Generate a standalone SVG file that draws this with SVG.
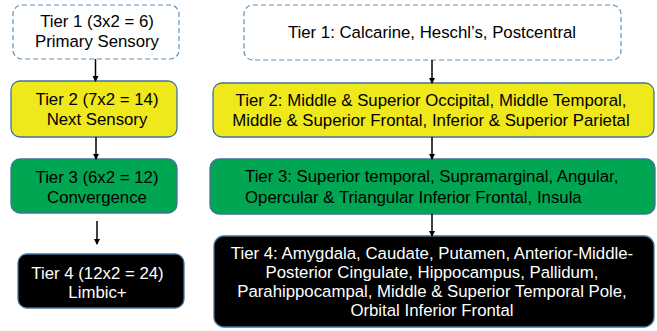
<svg xmlns="http://www.w3.org/2000/svg" width="657" height="331" viewBox="0 0 657 331">
<defs>
<marker id="ah" markerWidth="6" markerHeight="7" refX="5" refY="3" orient="auto" markerUnits="userSpaceOnUse">
<path d="M0,0 L6,3 L0,6 Z" fill="#000"/>
</marker>
<style>
.box{stroke:#41719c;stroke-width:1.3}
.dash{fill:#fff;stroke:#5b8fbd;stroke-width:1.2;stroke-dasharray:5,3}
.y{fill:#efe81b}
.g{fill:#00a651}
.k{fill:#000}
text{font-family:"Liberation Sans",Arial,sans-serif;font-size:16.8px;fill:#000}
.c{text-anchor:middle}
.w{fill:#fff}
.conn line{stroke:#000;stroke-width:1.5;marker-end:url(#ah)}
</style>
</defs>
<rect width="657" height="331" fill="#fff"/>
<g id="L1"><rect class="dash" x="13" y="5" width="166" height="54" rx="9"/>
<text class="c" x="97" y="27">Tier 1 (3x2 = 6)</text><text class="c" x="97" y="47">Primary Sensory</text></g>
<g id="L2"><rect class="box y" x="11" y="81" width="166" height="56" rx="9"/>
<text class="c" x="97" y="105">Tier 2 (7x2 = 14)</text><text class="c" x="97" y="125">Next Sensory</text></g>
<g id="L3"><rect class="box g" x="11" y="159" width="166" height="54" rx="9"/>
<text class="c" x="97" y="183">Tier 3 (6x2 = 12)</text><text class="c" x="97" y="203">Convergence</text></g>
<g id="L4"><rect class="box k" x="18" y="254" width="166" height="54" rx="9"/>
<text class="c w" x="97.5" y="279">Tier 4 (12x2 = 24)</text><text class="c w" x="97.5" y="298">Limbic+</text></g>
<g id="R1"><rect class="dash" x="244" y="5" width="377" height="55" rx="9"/>
<text class="c" x="432" y="38">Tier 1: Calcarine, Heschl’s, Postcentral</text></g>
<g id="R2"><rect class="box y" x="213" y="83" width="441" height="54" rx="9"/>
<text class="c" x="431" y="106">Tier 2: Middle &amp; Superior Occipital, Middle Temporal,</text>
<text class="c" x="431" y="126">Middle &amp; Superior Frontal, Inferior &amp; Superior Parietal</text></g>
<g id="R3"><rect class="box g" x="210" y="159" width="445" height="55" rx="9"/>
<text x="245" y="182">Tier 3: Superior temporal, Supramarginal, Angular,</text>
<text x="245" y="203">Opercular &amp; Triangular Inferior Frontal, Insula</text></g>
<g id="R4"><rect class="box k" x="214" y="236" width="440" height="91" rx="10"/>
<text class="c w" x="432" y="259">Tier 4: Amygdala, Caudate, Putamen, Anterior-Middle-</text>
<text class="c w" x="432" y="278">Posterior Cingulate, Hippocampus, Pallidum,</text>
<text class="c w" x="432" y="297">Parahippocampal, Middle &amp; Superior Temporal Pole,</text>
<text class="c w" x="432" y="316">Orbital Inferior Frontal</text></g>
<g id="connectors" class="conn">
<line x1="95.5" y1="59" x2="95.5" y2="81"/>
<line x1="96" y1="137" x2="96" y2="159"/>
<line x1="97" y1="221" x2="97" y2="244"/>
<line x1="432" y1="60" x2="432" y2="83"/>
<line x1="432" y1="137" x2="432" y2="159"/>
<line x1="432" y1="214" x2="432" y2="236"/>
</g>
</svg>
